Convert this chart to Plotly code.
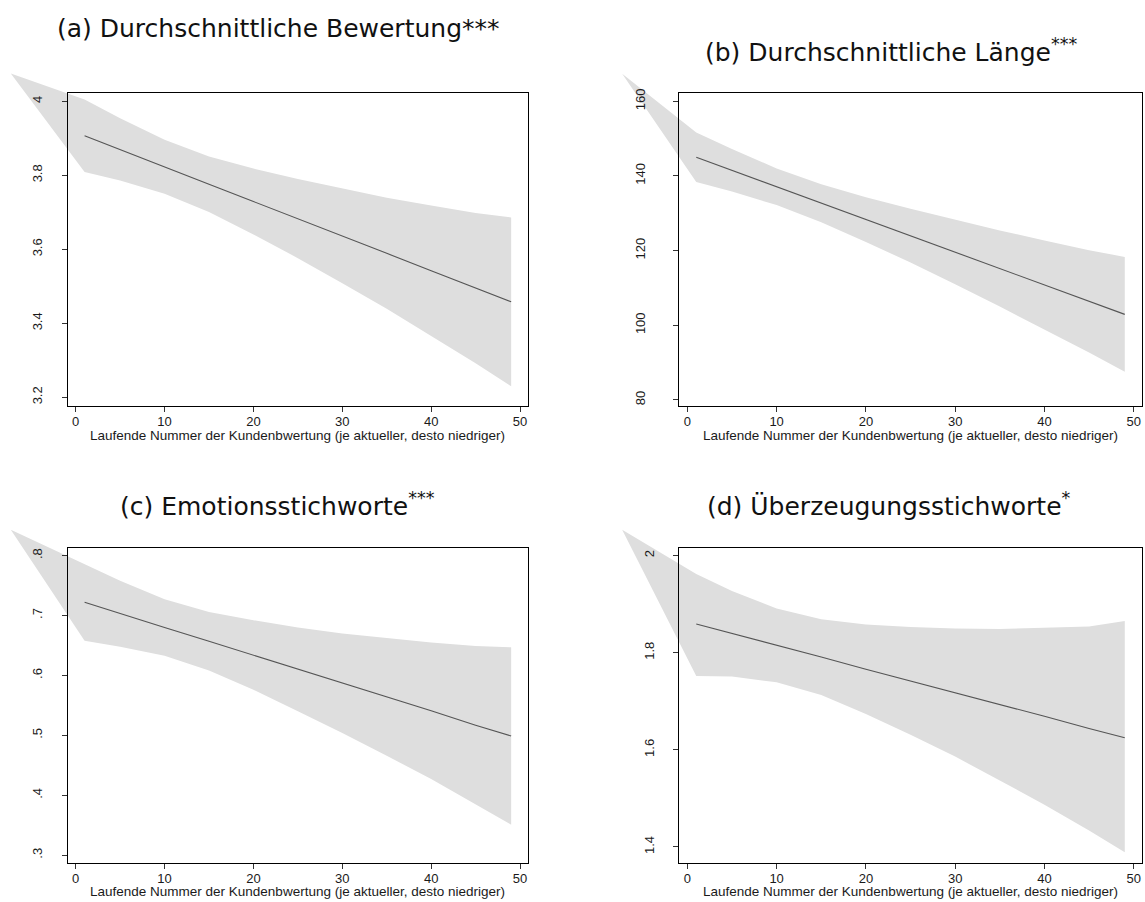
import plotly.graph_objects as go

# ---------------- data ----------------
x_pts = [1, 5, 10, 15, 20, 25, 30, 35, 40, 45, 49]
corner_x = -7.3

a_fit = [3.907, 3.870, 3.823, 3.776, 3.729, 3.683, 3.636, 3.589, 3.542, 3.495, 3.458]
a_upper = [4.005, 3.954, 3.896, 3.851, 3.818, 3.790, 3.764, 3.739, 3.718, 3.698, 3.686]
a_lower = [3.809, 3.786, 3.750, 3.701, 3.640, 3.576, 3.508, 3.439, 3.366, 3.292, 3.230]
a_corner = 4.075

b_fit = [145.0, 141.5, 137.1, 132.7, 128.3, 124.0, 119.6, 115.2, 110.8, 106.4, 102.9]
b_upper = [151.6, 147.2, 142.0, 137.8, 134.3, 131.2, 128.2, 125.4, 122.7, 120.1, 118.3]
b_lower = [138.4, 135.8, 132.2, 127.6, 122.3, 116.8, 111.0, 105.0, 98.9, 92.7, 87.5]
b_corner = 167.4

c_fit = [0.722, 0.703, 0.680, 0.657, 0.634, 0.610, 0.587, 0.564, 0.541, 0.517, 0.499]
c_upper = [0.786, 0.758, 0.727, 0.706, 0.692, 0.680, 0.670, 0.662, 0.655, 0.649, 0.647]
c_lower = [0.658, 0.648, 0.633, 0.608, 0.576, 0.540, 0.504, 0.466, 0.427, 0.385, 0.351]
c_corner = 0.843

d_fit = [1.859, 1.840, 1.815, 1.791, 1.766, 1.742, 1.718, 1.693, 1.669, 1.644, 1.625]
d_upper = [1.962, 1.927, 1.891, 1.869, 1.858, 1.853, 1.850, 1.849, 1.851, 1.854, 1.865]
d_lower = [1.752, 1.751, 1.739, 1.713, 1.674, 1.631, 1.586, 1.537, 1.487, 1.434, 1.389]
d_corner = 2.053

x_ticks = [0, 10, 20, 30, 40, 50]
a_yticks = [3.2, 3.4, 3.6, 3.8, 4.0]
a_ylabels = ["3.2", "3.4", "3.6", "3.8", "4"]
b_yticks = [80, 100, 120, 140, 160]
b_ylabels = ["80", "100", "120", "140", "160"]
c_yticks = [0.3, 0.4, 0.5, 0.6, 0.7, 0.8]
c_ylabels = [".3", ".4", ".5", ".6", ".7", ".8"]
d_yticks = [1.4, 1.6, 1.8, 2.0]
d_ylabels = ["1.4", "1.6", "1.8", "2"]

titles = [
    "(a) Durchschnittliche Bewertung***",
    "(b) Durchschnittliche Länge<sup>***</sup>",
    "(c) Emotionsstichworte<sup>***</sup>",
    "(d) Überzeugungsstichworte<sup>*</sup>",
]
x_title = "Laufende Nummer der Kundenbwertung (je aktueller, desto niedriger)"

# ---------------- layout geometry (pixels) ----------------
W, H = 1145, 902
X_RANGE = [-0.9, 50.93]
panels = [
    dict(fit=a_fit, up=a_upper, lo=a_lower, corner=a_corner, yt=a_yticks, yl=a_ylabels,
         yr=[3.1758, 4.0234], frame=(67.7, 528.3, 89, 404), ext=(0, 50),
         tpos=(55, 25), ystand=14),
    dict(fit=b_fit, up=b_upper, lo=b_lower, corner=b_corner, yt=b_yticks, yl=b_ylabels,
         yr=[78.3, 162.32], frame=(679.3, 1142, 89, 404), ext=(600, 50),
         tpos=(703, 47), ystand=23),
    dict(fit=c_fit, up=c_upper, lo=c_lower, corner=c_corner, yt=c_yticks, yl=c_ylabels,
         yr=[0.2872, 0.8133], frame=(67.7, 528.3, 546, 862.7), ext=(0, 506),
         tpos=(118, 503), ystand=14),
    dict(fit=d_fit, up=d_upper, lo=d_lower, corner=d_corner, yt=d_yticks, yl=d_ylabels,
         yr=[1.3672, 2.0164], frame=(679.3, 1142, 546, 862.7), ext=(600, 506),
         tpos=(705, 503), ystand=14),
]

BAND = "#dedede"
LINE = "#555555"
TICKFONT = dict(family="Liberation Sans, Arial, sans-serif", size=13, color="#1a1a1a")
XTITLEFONT = dict(family="Liberation Sans, Arial, sans-serif", size=13.5, color="#1a1a1a")

fig = go.Figure()
layout = dict(
    width=W, height=H, margin=dict(l=0, r=0, t=0, b=0),
    paper_bgcolor="white", plot_bgcolor="rgba(0,0,0,0)", showlegend=False,
)
annotations = []

for i, p in enumerate(panels):
    bi = i + 1      # band axes (extended, invisible)
    fi = i + 5      # frame axes (visible)
    L, R, T, B = p["frame"]
    eL, eT = p["ext"]
    xupp = (X_RANGE[1] - X_RANGE[0]) / (R - L)
    yupp = (p["yr"][1] - p["yr"][0]) / (B - T)
    ext_xr = [X_RANGE[0] - (L - eL) * xupp, X_RANGE[1]]
    ext_yr = [p["yr"][0], p["yr"][1] + (T - eT) * yupp]

    bx = "x" if bi == 1 else f"x{bi}"
    by = "y" if bi == 1 else f"y{bi}"
    fx, fy = f"x{fi}", f"y{fi}"

    poly_x = [corner_x] + x_pts + x_pts[::-1] + [corner_x]
    poly_y = [p["corner"]] + p["up"] + p["lo"][::-1] + [p["corner"]]
    fig.add_trace(go.Scatter(x=poly_x, y=poly_y, mode="lines", fill="toself",
                             fillcolor=BAND, line=dict(width=0, color=BAND),
                             hoverinfo="skip", xaxis=bx, yaxis=by))

    layout["xaxis" if bi == 1 else f"xaxis{bi}"] = dict(
        domain=[eL / W, R / W], range=ext_xr, visible=False, anchor=by, fixedrange=True)
    layout["yaxis" if bi == 1 else f"yaxis{bi}"] = dict(
        domain=[1 - B / H, 1 - eT / H], range=ext_yr, visible=False, anchor=bx, fixedrange=True)

    fig.add_trace(go.Scatter(x=x_pts, y=p["fit"], mode="lines",
                             line=dict(color=LINE, width=1.1), xaxis=fx, yaxis=fy))

    layout[f"xaxis{fi}"] = dict(
        domain=[L / W, R / W], range=X_RANGE, anchor=fy,
        showline=True, mirror=True, linecolor="black", linewidth=1.4,
        ticks="outside", ticklen=5, tickwidth=1, tickcolor="#333333",
        tickvals=x_ticks, ticktext=[str(v) for v in x_ticks], tickfont=TICKFONT,
        ticklabelstandoff=-2,
        showgrid=False, zeroline=False,
    )
    layout[f"yaxis{fi}"] = dict(
        domain=[1 - B / H, 1 - T / H], range=p["yr"], anchor=fx,
        showline=True, mirror=True, linecolor="black", linewidth=1.4,
        ticks="outside", ticklen=5, tickwidth=1, tickcolor="#333333",
        tickvals=p["yt"], ticktext=p["yl"], tickfont=TICKFONT, tickangle=-90,
        ticklabelstandoff=p["ystand"],
        showgrid=False, zeroline=False,
    )

    # x-axis title
    annotations.append(dict(
        text=x_title, x=(L + R) / 2 / W, y=1 - (B + 29) / H, xref="paper", yref="paper",
        xanchor="center", yanchor="middle", showarrow=False, font=XTITLEFONT,
    ))
    # panel title
    tx, ty = p["tpos"]
    annotations.append(dict(
        text=titles[i], x=tx / W, y=1 - ty / H, xref="paper", yref="paper",
        xanchor="left", yanchor="middle", showarrow=False,
        font=dict(family="DejaVu Sans, sans-serif", size=25, color="#111111"),
    ))

layout["annotations"] = annotations
fig.update_layout(**layout)
fig.write_html("out.html", config={"displayModeBar": False},
               post_script="document.body.style.margin='0px';")
